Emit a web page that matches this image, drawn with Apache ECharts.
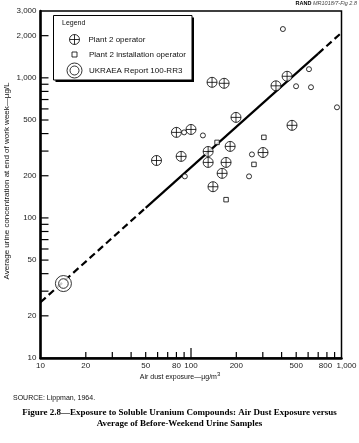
<!DOCTYPE html>
<html><head><meta charset="utf-8">
<script src="https://cdn.jsdelivr.net/npm/echarts@6/dist/echarts.min.js"></script>
<style>html,body{margin:0;padding:0;background:#fff}#c{width:359px;height:443px}</style>
</head><body><div id="c"></div>
<script>
// ---- data ----
const operatorX = [59, 80, 100, 86, 138, 166, 130, 130, 161, 140, 182, 171, 199, 301, 367, 435, 469];
const operatorY = [257, 408, 428, 275, 929, 914, 298, 249, 208, 167, 324, 249, 522, 293, 877, 1026, 458];
const installSquareX = [149, 171, 305, 262];
const installSquareY = [346, 135, 376, 241];
const installCircleX = [408, 608, 499, 627, 933, 90, 120, 91, 254, 243];
const installCircleY = [2230, 1153, 871, 857, 616, 408, 388, 198, 284, 198];
const ukraeaX = [14.2];
const ukraeaY = [34];
const fitX = [10, 50, 700, 1000];
const fitY = [25, 118, 1490, 2100];
const xTicks = [20, 30, 40, 50, 60, 70, 80, 90, 100, 200, 300, 400, 500, 600, 700, 800, 900];
const xLabels = [10, 20, 50, 80, 100, 200, 500, 800, 1000];
const yTicks = [20, 30, 40, 50, 60, 70, 80, 90, 100, 200, 300, 400, 500, 600, 700, 800, 900, 1000, 2000];
const yLabels = [10, 20, 50, 100, 200, 500, 1000, 2000, 3000];

const SANS = '"Liberation Sans", Arial, Helvetica, sans-serif';
const SERIF = '"Liberation Serif", "Times New Roman", serif';
const CROSS = 'path://M0,-10A10,10 0 1,1 0,10A10,10 0 1,1 0,-10ZM-10,0L10,0M0,-10L0,10';
const DOUBLE = 'path://M0,-10A10,10 0 1,1 0,10A10,10 0 1,1 0,-10ZM0,-6A6,6 0 1,1 0,6A6,6 0 1,1 0,-6Z';
const pts = (xs, ys) => xs.map((x, i) => [x, ys[i]]);
const fmt = v => v.toLocaleString('en-US');
const hollow = { color: '#fff', borderColor: '#000', borderWidth: 1 };

const chart = echarts.init(document.getElementById('c'), null, { renderer: 'canvas' });

const legendBase = {
  orient: 'vertical', padding: 0, selectedMode: false, z: 10,
  itemStyle: { color: '#fff', borderColor: '#000', borderWidth: 1 },
  textStyle: { fontSize: 8, fontFamily: SANS, color: '#111' }
};

chart.setOption({
  animation: false,
  grid: { left: 40.5, top: 11, width: 301, height: 347, show: true, borderColor: '#000', borderWidth: 1.5 },
  xAxis: {
    type: 'log', logBase: 10, min: 10, max: 1000,
    axisLine: { show: true, onZero: false, lineStyle: { color: '#000', width: 2.5 } },
    axisTick: { show: false }, axisLabel: { show: false }, splitLine: { show: false }, minorTick: { show: false }
  },
  yAxis: {
    type: 'log', logBase: 10, min: 10, max: 3000,
    axisLine: { show: true, onZero: false, lineStyle: { color: '#000', width: 2.5 } },
    axisTick: { show: false }, axisLabel: { show: false }, splitLine: { show: false }, minorTick: { show: false }
  },
  legend: [
    Object.assign({}, legendBase, { data: ['Plant 2 operator'], left: 69, top: 34, itemWidth: 10, itemHeight: 10,
      textStyle: Object.assign({}, legendBase.textStyle, { padding: [0, 0, 0, 4] }) }),
    Object.assign({}, legendBase, { data: ['Plant 2 installation operator'], left: 71.5, top: 50.5, itemWidth: 5, itemHeight: 5,
      textStyle: Object.assign({}, legendBase.textStyle, { padding: [0, 0, 0, 7] }) }),
    Object.assign({}, legendBase, { data: ['UKRAEA Report 100-RR3'], left: 66.5, top: 62.5, itemWidth: 15, itemHeight: 15,
      textStyle: Object.assign({}, legendBase.textStyle, { padding: [0, 0, 0, 2] }) })
  ],
  graphic: [
    { type: 'rect', z: 1, shape: { x: 55.5, y: 17.5, width: 138.5, height: 64.5 }, style: { fill: '#000' } },
    { type: 'rect', z: 2, shape: { x: 53.5, y: 15.5, width: 138.5, height: 64.5 }, style: { fill: '#fff', stroke: '#000', lineWidth: 1 } },
    { type: 'text', z: 3, x: 62, y: 23.5, style: { text: 'Legend', fontSize: 7, fontFamily: SANS, fill: '#111', verticalAlign: 'middle' } },
    { type: 'text', z: 3, x: 357, y: 3.5, style: {
        text: '{b|RAND} {i|MR1018/7-Fig 2.8}', align: 'right', verticalAlign: 'middle', fontSize: 5.5, fontFamily: SANS, fill: '#000',
        rich: { b: { fontSize: 5.5, fontWeight: 'bold', fontFamily: SANS, fill: '#000' },
                i: { fontSize: 5.5, fontStyle: 'italic', fontFamily: SANS, fill: '#444' } } } },
    { type: 'text', z: 3, x: 7, y: 181, rotation: Math.PI / 2, style: {
        text: 'Average urine concentration at end of work week—µg/L', fontSize: 8, fontFamily: SANS, fill: '#111',
        align: 'center', verticalAlign: 'middle' } },
    { type: 'text', z: 3, x: 180, y: 377, style: {
        text: 'Air dust exposure—µg/m{s|3}', fontSize: 7, lineHeight: 12, fontFamily: SANS, fill: '#111',
        align: 'center', verticalAlign: 'middle',
        rich: { s: { fontSize: 6, lineHeight: 6, verticalAlign: 'top', fontFamily: SANS, fill: '#111' } } } },
    { type: 'text', z: 3, x: 13, y: 398, style: { text: 'SOURCE: Lippman, 1964.', fontSize: 7, fontFamily: SANS, fill: '#111', verticalAlign: 'middle' } },
    { type: 'text', z: 3, x: 179.5, y: 413, style: {
        text: 'Figure 2.8—Exposure to Soluble Uranium Compounds: Air Dust Exposure versus',
        fontSize: 9, fontWeight: 'bold', fontFamily: SERIF, fill: '#000', align: 'center', verticalAlign: 'middle' } },
    { type: 'text', z: 3, x: 179.5, y: 424, style: {
        text: 'Average of Before-Weekend Urine Samples',
        fontSize: 9, fontWeight: 'bold', fontFamily: SERIF, fill: '#000', align: 'center', verticalAlign: 'middle' } }
  ],
  series: [
    { type: 'line', data: pts(fitX.slice(0, 2), fitY.slice(0, 2)), symbol: 'none', silent: true, z: 2,
      lineStyle: { color: '#000', width: 2.2, type: [7, 4] } },
    { type: 'line', data: pts(fitX.slice(1, 3), fitY.slice(1, 3)), symbol: 'none', silent: true, z: 2,
      lineStyle: { color: '#000', width: 2.2, type: 'solid' } },
    { type: 'line', data: pts(fitX.slice(2, 4), fitY.slice(2, 4)), symbol: 'none', silent: true, z: 2,
      lineStyle: { color: '#000', width: 2.2, type: [7, 4] } },
    { type: 'scatter', name: 'Plant 2 operator', data: pts(operatorX, operatorY), symbol: CROSS, symbolSize: 10,
      symbolKeepAspect: true, itemStyle: hollow, z: 5 },
    { type: 'scatter', name: 'Plant 2 installation operator', data: pts(installSquareX, installSquareY), symbol: 'rect',
      symbolSize: 4.5, itemStyle: hollow, z: 5 },
    { type: 'scatter', name: 'Plant 2 installation operator', data: pts(installCircleX, installCircleY), symbol: 'circle',
      symbolSize: 5, itemStyle: hollow, z: 5 },
    { type: 'scatter', name: 'UKRAEA Report 100-RR3', data: pts(ukraeaX, ukraeaY), symbol: DOUBLE, symbolSize: 16,
      symbolKeepAspect: true, itemStyle: hollow, z: 5 },
    // axis ticks and tick labels placed through the axes' own log scales
    { type: 'custom', silent: true, z: 3, data: xTicks.map(v => [v, 10]),
      renderItem: (p, api) => {
        const c = api.coord([api.value(0), api.value(1)]);
        const len = api.value(0) === 100 ? 10 : 6;
        return { type: 'line', shape: { x1: c[0], y1: c[1], x2: c[0], y2: c[1] - len }, style: { stroke: '#000', lineWidth: 1.2 } };
      } },
    { type: 'custom', silent: true, z: 3, data: yTicks.map(v => [10, v]),
      renderItem: (p, api) => {
        const c = api.coord([api.value(0), api.value(1)]);
        return { type: 'line', shape: { x1: c[0], y1: c[1], x2: c[0] + 8, y2: c[1] }, style: { stroke: '#000', lineWidth: 1.2 } };
      } },
    { type: 'custom', silent: true, z: 3, data: xLabels.map(v => [v, 10]),
      renderItem: (p, api) => {
        const v = api.value(0);
        const c = api.coord([v, api.value(1)]);
        const shift = v === 1000 ? 5 : (v === 800 ? -1.5 : 0);
        return { type: 'text', style: { text: fmt(v), x: c[0] + shift, y: c[1] + 8, align: 'center', verticalAlign: 'middle',
          fontSize: 8, fontFamily: SANS, fill: '#222' } };
      } },
    { type: 'custom', silent: true, z: 3, data: yLabels.map(v => [10, v]),
      renderItem: (p, api) => {
        const c = api.coord([api.value(0), api.value(1)]);
        return { type: 'text', style: { text: fmt(api.value(1)), x: c[0] - 4, y: c[1], align: 'right', verticalAlign: 'middle',
          fontSize: 8, fontFamily: SANS, fill: '#222' } };
      } }
  ]
});
</script>
</body></html>
